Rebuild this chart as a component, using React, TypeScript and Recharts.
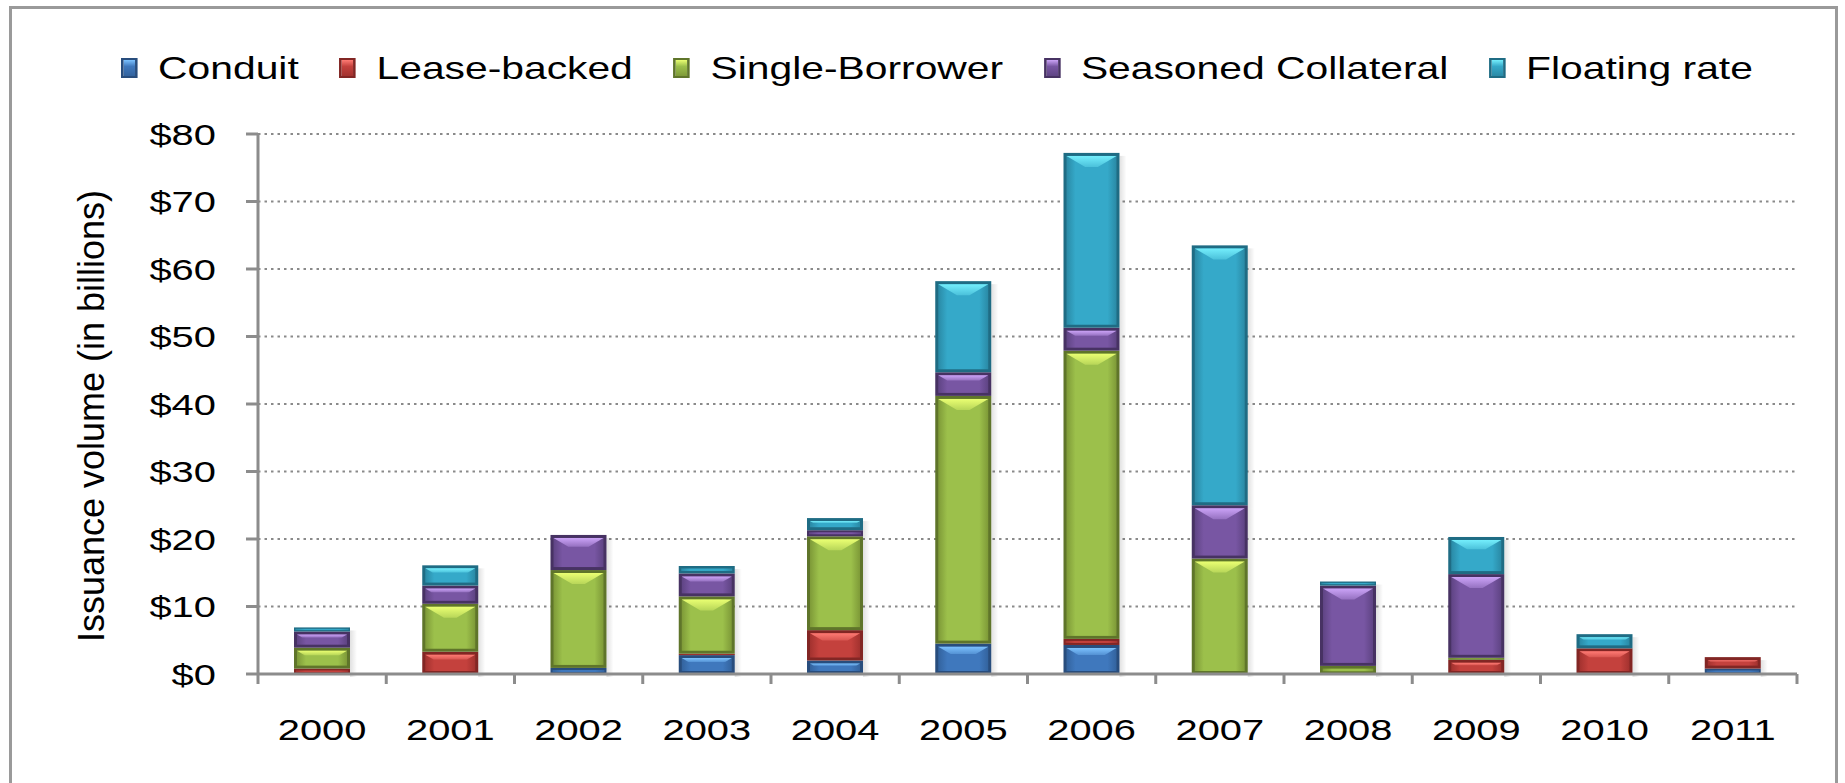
import { BarChart, Bar, XAxis, YAxis, CartesianGrid, Label } from "recharts";

// values ($ billions)
const years = ["2000", "2001", "2002", "2003", "2004", "2005", "2006", "2007", "2008", "2009", "2010", "2011"];
const conduit = [0, 0, 0.9, 2.8, 2.0, 4.5, 4.3, 0, 0, 0, 0, 0.8];
const leaseBacked = [0.8, 3.3, 0, 0.2, 4.5, 0, 0.9, 0, 0, 2.1, 3.8, 1.7];
const singleBorrower = [3.1, 7.1, 14.5, 8.5, 13.9, 36.7, 42.7, 17.1, 1.2, 0.3, 0, 0];
const seasonedCollateral = [2.4, 2.7, 5.2, 3.4, 0.9, 3.5, 3.4, 7.9, 11.9, 12.4, 0, 0];
const floatingRate = [0.6, 3.0, 0, 1.1, 1.8, 13.5, 25.9, 38.5, 0.6, 5.5, 2.1, 0];
const yTicks = [0, 10, 20, 30, 40, 50, 60, 70, 80];

const FONT = '"Liberation Sans", Arial, sans-serif';
const AXIS = "#8c8c8c";
const STRETCH = 1.33; // the original artwork is stretched sideways

const data = years.map((year, i) => ({
  year,
  conduit: conduit[i],
  leaseBacked: leaseBacked[i],
  singleBorrower: singleBorrower[i],
  seasoned: seasonedCollateral[i],
  floating: floatingRate[i],
}));

type Pal = { id: string; base: string; light: string; dark: string; edge: string };

const series: { key: string; name: string; pal: Pal }[] = [
  { key: "conduit", name: "Conduit", pal: { id: "cd", base: "#3f78bd", light: "#7cc2ff", dark: "#284d7d", edge: "#33639e" } },
  { key: "leaseBacked", name: "Lease-backed", pal: { id: "lb", base: "#c4413d", light: "#ff7b74", dark: "#822624", edge: "#a3322f" } },
  { key: "singleBorrower", name: "Single-Borrower", pal: { id: "sb", base: "#9cc04b", light: "#eaff72", dark: "#5f752a", edge: "#7e9a38" } },
  { key: "seasoned", name: "Seasoned Collateral", pal: { id: "sc", base: "#7856a3", light: "#cba3f7", dark: "#473263", edge: "#5f4484" } },
  { key: "floating", name: "Floating rate", pal: { id: "fr", base: "#35a9c9", light: "#74eefc", dark: "#1f6c84", edge: "#2a8aa6" } },
];

function BevelBar(props: any) {
  const { x, y, width, height, pal } = props;
  if (!height || height <= 0) return null;
  const b = Math.min(3, height / 3);
  const t = Math.min(11, Math.max(0, (height - 2 * b) * 0.3));
  const ix = x + b;
  const iw = width - 2 * b;
  return (
    <g>
      <rect x={x + width} y={y + 3} width={7} height={height} fill="url(#barShadow)" />
      <rect x={x} y={y} width={width} height={height} fill={pal.dark} />
      <rect x={ix} y={y + b} width={iw} height={Math.max(0, height - 2 * b)} fill={`url(#g-${pal.id})`} />
      {t > 1.5 && (
        <polygon
          points={`${ix},${y + b} ${ix + iw},${y + b} ${ix + iw - t * 1.7},${y + b + t} ${ix + t * 1.7},${y + b + t}`}
          fill={`url(#h-${pal.id})`}
        />
      )}
    </g>
  );
}

const stretchAt = (x: number) => `translate(${x} 0) scale(${STRETCH} 1) translate(${-x} 0)`;

function YearTick(props: any) {
  const { x, y, payload, index, width, visibleTicksCount } = props;
  const n = visibleTicksCount || years.length;
  const band = (width || 1539) / n;
  const axisY = y - 45;
  return (
    <g>
      <line x1={x - band / 2} x2={x - band / 2} y1={axisY} y2={axisY + 10} stroke={AXIS} strokeWidth={3} />
      {index === n - 1 && (
        <line x1={x + band / 2} x2={x + band / 2} y1={axisY} y2={axisY + 10} stroke={AXIS} strokeWidth={3} />
      )}
      <text
        x={x}
        y={y}
        dy="0.71em"
        textAnchor="middle"
        fill="#000"
        transform={stretchAt(x)}
        style={{ fontFamily: FONT, fontSize: 30 }}
      >
        {payload.value}
      </text>
    </g>
  );
}

function DollarTick(props: any) {
  const { x, y, payload } = props;
  return (
    <text
      x={x}
      y={y}
      dy="0.355em"
      textAnchor="end"
      fill="#000"
      transform={stretchAt(x)}
      style={{ fontFamily: FONT, fontSize: 30 }}
    >
      {`$${payload.value}`}
    </text>
  );
}

function LegendRow() {
  return (
    <div
      style={{
        position: "absolute",
        left: 0,
        top: 48,
        width: 1874,
        height: 40,
        display: "flex",
        alignItems: "center",
        justifyContent: "center",
        fontFamily: FONT,
        fontSize: 32,
        color: "#000",
        whiteSpace: "nowrap",
        transform: "scaleX(1.275)",
        transformOrigin: "50% 50%",
      }}
    >
      {series.map((s, i) => (
        <div key={s.key} style={{ display: "flex", alignItems: "center", marginRight: i < series.length - 1 ? 32 : 0 }}>
          <div
            style={{
              width: 13,
              height: 20,
              marginRight: 16,
              boxSizing: "border-box",
              border: `2px solid ${s.pal.dark}`,
              background: `linear-gradient(to bottom, ${s.pal.light} 0%, ${s.pal.base} 40%, ${s.pal.edge} 100%)`,
            }}
          />
          <span>{s.name}</span>
        </div>
      ))}
    </div>
  );
}

export default function App() {
  return (
    <div
      style={{
        position: "absolute",
        left: 0,
        top: 0,
        width: 1845,
        height: 783,
        overflow: "hidden",
        background: "#fff",
      }}
    >
      <div
        style={{
          position: "absolute",
          left: 9,
          top: 6,
          width: 1829,
          height: 820,
          border: "3px solid #9a9a9a",
          boxSizing: "border-box",
        }}
      />
      <LegendRow />
      <div style={{ position: "absolute", left: 0, top: 0 }}>
        <BarChart width={1845} height={783} data={data} margin={{ top: 134, right: 48, bottom: 0, left: 0 }}>
          <defs>
            <linearGradient id="barShadow" x1="0" y1="0" x2="1" y2="0">
              <stop offset="0%" stopColor="#000" stopOpacity={0.12} />
              <stop offset="100%" stopColor="#000" stopOpacity={0} />
            </linearGradient>
            {series.map((s) => (
              <linearGradient key={`g-${s.pal.id}`} id={`g-${s.pal.id}`} x1="0" y1="0" x2="1" y2="0">
                <stop offset="0%" stopColor={s.pal.edge} />
                <stop offset="18%" stopColor={s.pal.base} />
                <stop offset="82%" stopColor={s.pal.base} />
                <stop offset="100%" stopColor={s.pal.edge} />
              </linearGradient>
            ))}
            {series.map((s) => (
              <linearGradient key={`h-${s.pal.id}`} id={`h-${s.pal.id}`} x1="0" y1="0" x2="0" y2="1">
                <stop offset="0%" stopColor={s.pal.light} />
                <stop offset="100%" stopColor={s.pal.light} stopOpacity={0.35} />
              </linearGradient>
            ))}
          </defs>
          <CartesianGrid vertical={false} stroke="#8a8a8a" strokeWidth={2} strokeDasharray="2.5 4" />
          <XAxis
            dataKey="year"
            height={109}
            tickSize={0}
            tickMargin={45}
            tickLine={false}
            axisLine={{ stroke: AXIS, strokeWidth: 3 }}
            tick={<YearTick />}
            interval={0}
          />
          <YAxis
            width={258}
            domain={[0, 80]}
            ticks={yTicks}
            tickSize={12}
            tickMargin={30}
            axisLine={{ stroke: AXIS, strokeWidth: 3 }}
            tickLine={{ stroke: AXIS, strokeWidth: 3 }}
            tick={<DollarTick />}
          >
            <Label
              value="Issuance volume (in billions)"
              angle={-90}
              position="insideLeft"
              offset={91}
              dy={12}
              style={{ textAnchor: "middle", fontSize: 36, fontFamily: FONT, fill: "#000" }}
            />
          </YAxis>
          {series.map((s) => (
            <Bar
              key={s.key}
              dataKey={s.key}
              name={s.name}
              stackId="a"
              barSize={56}
              fill={s.pal.base}
              isAnimationActive={false}
              shape={(p: any) => <BevelBar {...p} pal={s.pal} />}
            />
          ))}
        </BarChart>
      </div>
    </div>
  );
}
